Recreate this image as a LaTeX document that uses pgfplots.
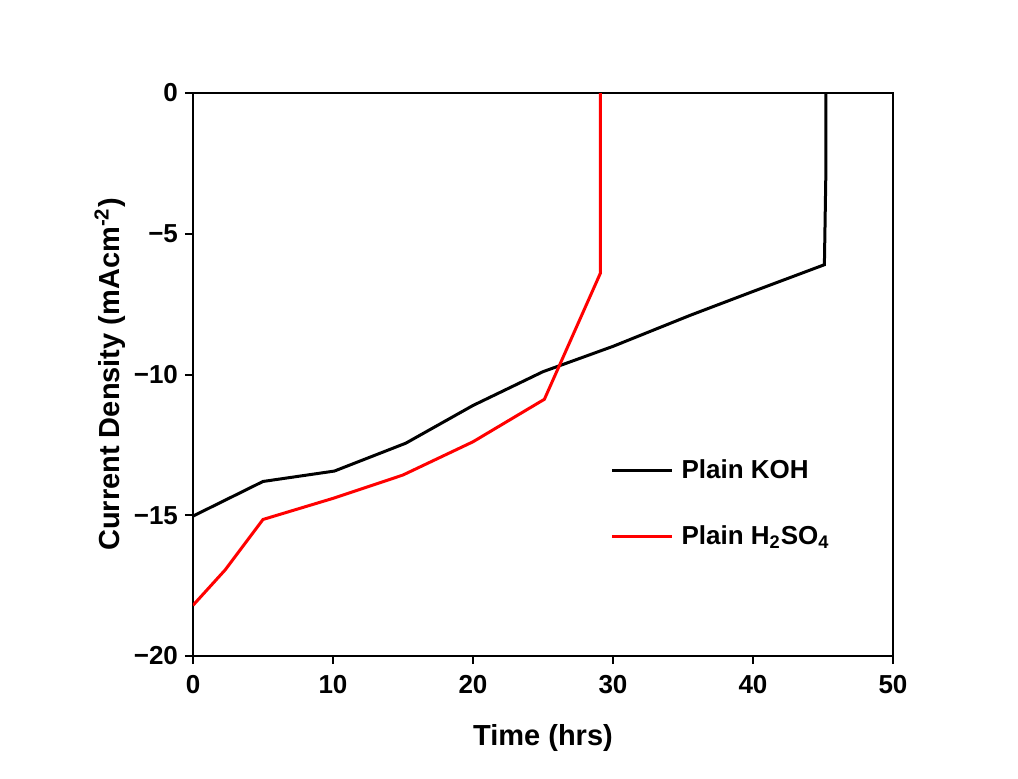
\documentclass[border=0pt]{standalone}
\usepackage{fontspec}
\setmainfont{Liberation Sans}
\usepackage{pgfplots}
\pgfplotsset{compat=1.18}
\begin{document}
\begin{tikzpicture}
\path[use as bounding box] (-96.5pt,-61pt) rectangle (412.5pt,328pt);
\begin{axis}[
  scale only axis,
  width=350pt, height=281.5pt,
  xmin=0, xmax=50, ymin=-20, ymax=0,
  xtick={0,10,20,30,40,50},
  xticklabels={0,10,20,30,40,50},
  ytick={-20,-15,-10,-5,0},
  yticklabels={−20,−15,−10,−5,0},
  tick pos=left,
  tick align=outside,
  major tick length=4pt,
  axis line style={line width=1pt},
  tick style={line width=1pt, black},
  tick label style={font=\fontsize{13}{15}\selectfont\bfseries},
  xticklabel style={yshift=-2pt},
  label style={font=\fontsize{14.5}{17}\selectfont\bfseries},
  xlabel={Time (hrs)},
  ylabel={Current Density (mAcm\textsuperscript{-2})},
  xlabel style={yshift=-8.5pt},
  ylabel style={yshift=-2.5pt},
  legend style={draw=none, fill=none, at={(0.596,0.357)}, anchor=north west,
    font=\fontsize{13}{15}\selectfont\bfseries, row sep=18pt,
    inner sep=0pt},
  legend cell align=left,
  legend image code/.code={\draw[#1] (0pt,0pt) -- (30pt,0pt); \path (32pt,0pt);},
]
\addplot[black, line width=1.5pt] coordinates {
(0,-15.03) (5,-13.8) (10.1,-13.43) (15.2,-12.44) (20,-11.1) (25,-9.9)
(30,-9.0) (35.5,-7.9) (40,-7.05) (45.1,-6.1) (45.2,-3.0) (45.2,0)
};
\addlegendentry{Plain KOH}
\addplot[red, line width=1.5pt] coordinates {
(0,-18.2) (2.3,-16.94) (5.0,-15.15) (10,-14.4) (15,-13.57) (20,-12.39)
(25.1,-10.88) (29.1,-6.4) (29.1,0)
};
\addlegendentry{Plain H\textsubscript{2}SO\textsubscript{4}}
\end{axis}
\end{tikzpicture}
\end{document}
